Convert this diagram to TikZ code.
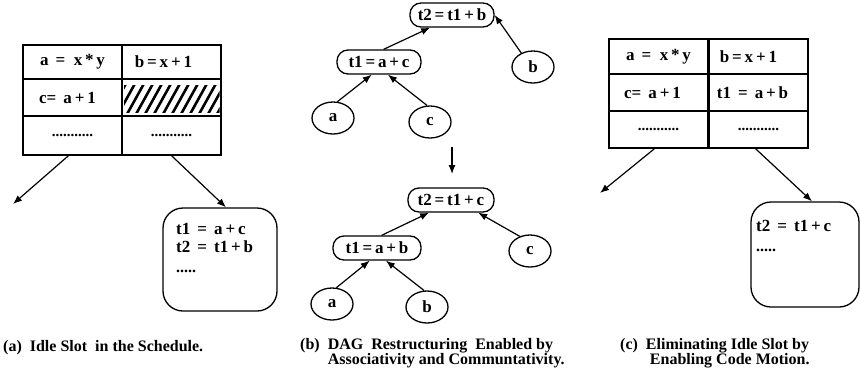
\documentclass[tikz,border=0pt]{standalone}
\usepackage{fontspec}
\setmainfont{Liberation Serif}
\usetikzlibrary{arrows.meta,shapes.geometric}
\begin{document}
\begin{tikzpicture}[x=1pt,y=-1pt,
  font=\bfseries\fontsize{17}{19}\selectfont,
  arr/.style={-{Latex[length=9pt,width=7pt]}, line width=1.2pt},
  cellbox/.style={draw, line width=1.3pt, minimum width=99pt, inner sep=0pt},
  opnode/.style={draw, line width=1.3pt, rounded corners=11pt, minimum height=24pt, inner sep=0pt},
  leaf/.style={draw, ellipse, line width=1.3pt, minimum width=42pt, minimum height=32pt, inner sep=0pt},
  codebox/.style={draw, line width=1.3pt, rounded corners=20pt, inner sep=0pt},
  codetext/.style={anchor=north west, align=left, inner sep=0pt, font=\bfseries\fontsize{17}{18}\selectfont},
  captxt/.style={anchor=base west, inner sep=0pt, font=\bfseries\fontsize{16}{13}\selectfont}
]
\useasboundingbox (0,0) rectangle (861,378);
\newcommand{\dotrow}{{\fontsize{15}{15}\selectfont ...........}}

% ---------- panel (a) ----------
\node[cellbox, minimum height=34pt] (a11) at (72.5,62) {a\ \,= \ x\,*\,y};
\node[cellbox, minimum height=34pt] (a12) at (171.5,62) {b\,=\,x\,+\,1\hspace*{16pt}};
\node[cellbox, minimum height=37pt] (a21) at (72.5,97.5) {c=\ \,a\,+\,1\hspace*{10pt}};
\node[cellbox, minimum height=37pt] (a22) at (171.5,97.5) {};
\node[cellbox, minimum height=39pt] (a31) at (72.5,135.5) {\dotrow};
\node[cellbox, minimum height=39pt] (a32) at (171.5,135.5) {\dotrow};
\begin{scope}
  \clip (124,85) rectangle (219.5,112);
  \foreach \i in {0,...,13}
    \draw[line width=2.6pt] (108+9*\i,116) -- (128+9*\i,80);
\end{scope}
\coordinate (la) at (13,204);
\node[codebox, minimum width=114pt, minimum height=103pt] (sa) at (220,259.5) {};
\node[codetext] (sat) at (176,223) {t1\ \,=\ \,a\,+\,c\\t2\ \,=\ \,t1\,+\,b\\[2pt]{\fontsize{16}{16}\selectfont .....}};
\draw[arr] ([xshift=-4pt]a31.south) -- (la);
\draw[arr] (a32.south) -- ([xshift=6pt]sa.north);
\node[captxt] (capa) at (3,351) {(a)\ \ Idle Slot\ \ in the Schedule.};

% ---------- panel (b), top tree ----------
\node[opnode, minimum width=84pt] (t2a) at (452,15) {t2\,=\,t1\,+\,b};
\node[opnode, minimum width=84pt] (t1a) at (379,62) {t1\,=\,a\,+\,c};
\node[leaf] (ba) at (533,67) {b};
\node[leaf] (aa) at (333,118) {a};
\node[leaf] (ca) at (430,122) {c};
\draw[arr] (t1a.70) -- (t2a.210);
\draw[arr] (ba.130) -- (t2a.east);
\draw[arr] (aa.75) -- (t1a.240);
\draw[arr] (ca.100) -- (t1a.305);
\coordinate (dn1) at (452,147);
\coordinate (dn2) at (452,174);
\draw[arr] (dn1) -- (dn2);

% ---------- panel (b), bottom tree ----------
\node[opnode, minimum width=86pt] (t2b) at (451,200) {t2\,=\,t1\,+\,c};
\node[opnode, minimum width=88pt] (t1b) at (377,248) {t1\,=\,a\,+\,b};
\node[leaf] (cb) at (530,251) {c};
\node[leaf] (ab) at (332,304) {a};
\node[leaf] (bb) at (427,307) {b};
\draw[arr] (t1b.70) -- (t2b.210);
\draw[arr] (cb.125) -- (t2b.335);
\draw[arr] (ab.75) -- (t1b.240);
\draw[arr] (bb.100) -- (t1b.305);
\node[captxt] (capb) at (300,349) {\begin{tabular}[t]{@{}l@{\ \ }l@{}}(b) & DAG\ \ Restructuring\ \ Enabled by\\ & Associativity and Communtativity.\end{tabular}};

% ---------- panel (c) ----------
\node[cellbox, minimum height=35pt] (c11) at (658.5,56.5) {a\ \,= \ x\,*\,y};
\node[cellbox, minimum height=35pt] (c12) at (758.5,56.5) {b\,=\,x\,+\,1\hspace*{20pt}};
\node[cellbox, minimum height=37pt] (c21) at (658.5,92.5) {c=\ \,a\,+\,1\hspace*{12pt}};
\node[cellbox, minimum height=37pt] (c22) at (758.5,92.5) {t1\ \,=\ \,a\,+\,b\hspace*{12pt}};
\node[cellbox, minimum height=37pt] (c31) at (658.5,129.5) {\dotrow};
\node[cellbox, minimum height=37pt] (c32) at (758.5,129.5) {\dotrow};
\coordinate (lc) at (600,193);
\node[codebox, minimum width=108pt, minimum height=105pt] (sc) at (805,254.5) {};
\node[codetext] (sct) at (756,220) {t2\ \,=\ \,t1\,+\,c\\[2pt]{\fontsize{16}{16}\selectfont .....}};
\draw[arr] ([xshift=-4pt]c31.south) -- (lc);
\draw[arr] ([xshift=-3pt]c32.south) -- ([xshift=7pt]sc.north);
\node[captxt] (capc) at (620,349) {\begin{tabular}[t]{@{}l@{\ \ }l@{}}(c) & Eliminating Idle Slot by\\ & \ Enabling Code Motion.\end{tabular}};
\end{tikzpicture}
\end{document}
